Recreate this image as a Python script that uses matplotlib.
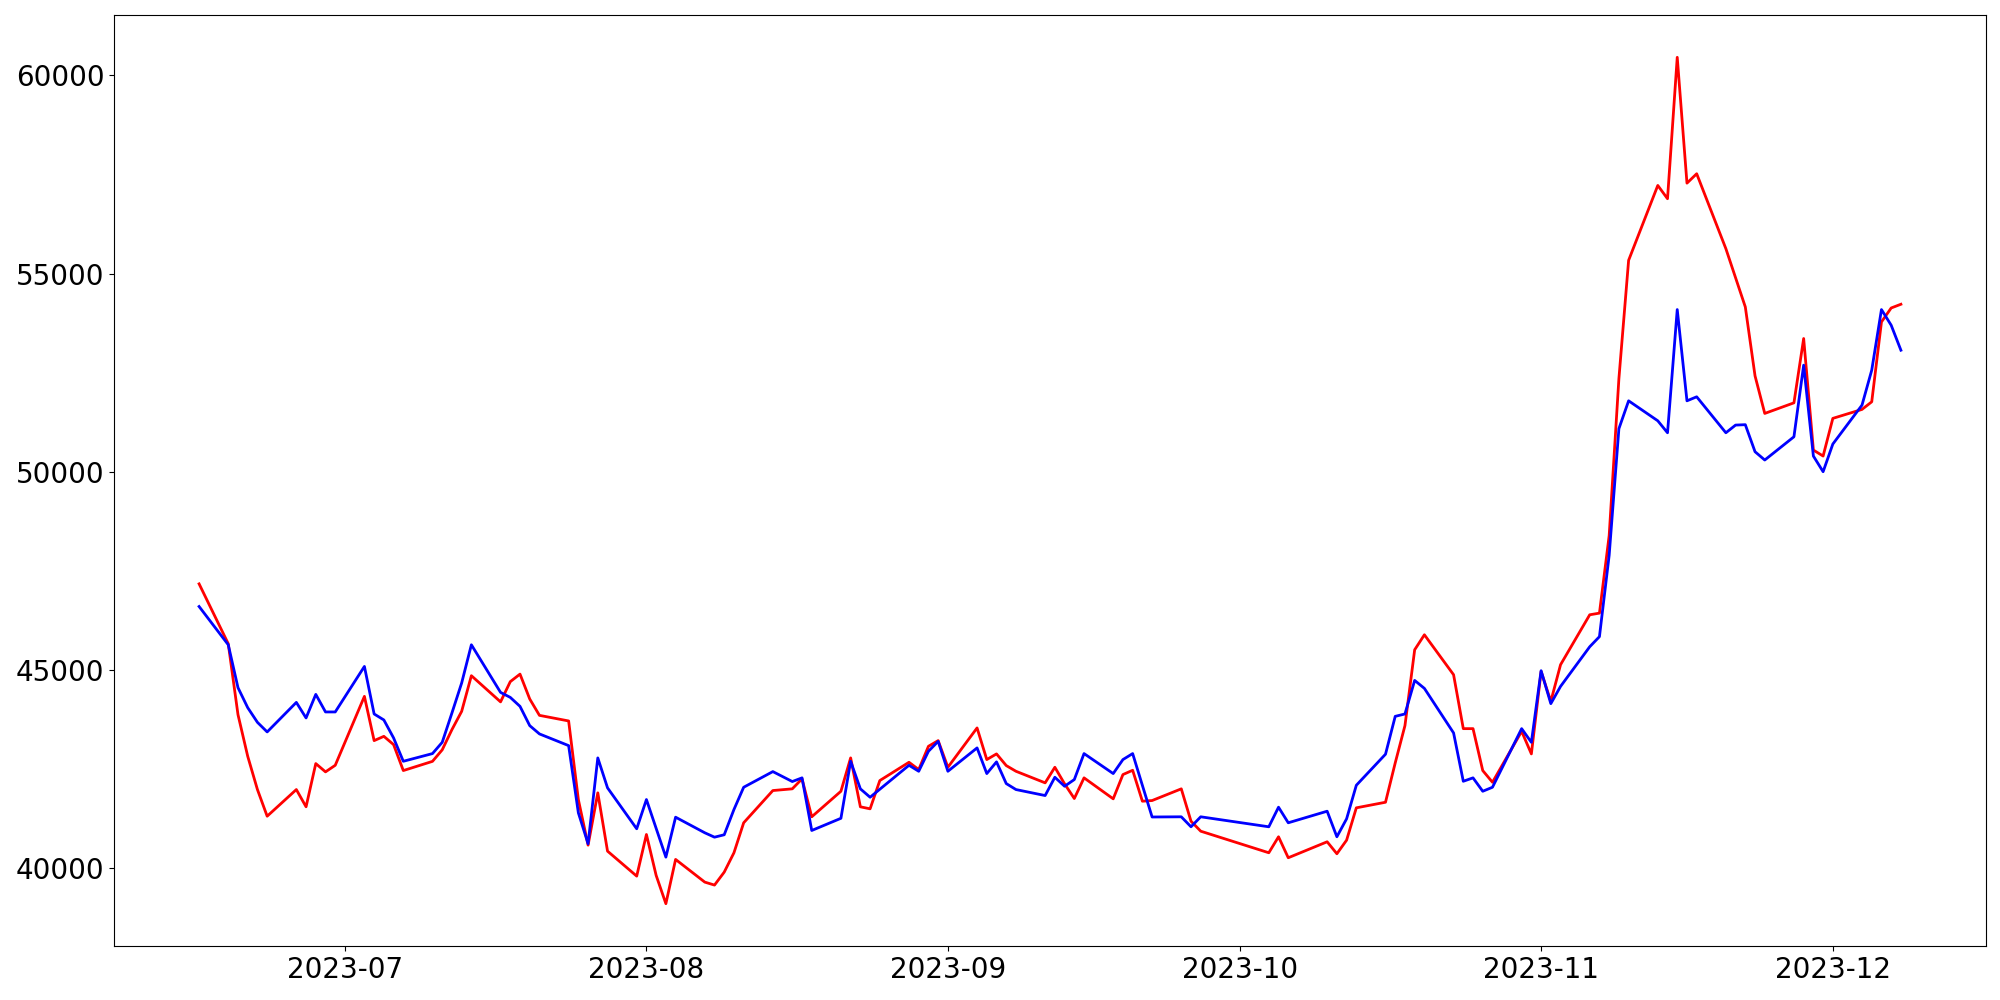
import numpy as np
import pandas as pd
import matplotlib
matplotlib.use('Agg')
import matplotlib.pyplot as plt
import matplotlib.dates as mdates

# dias de mercado (sin fines de semana ni festivos)
festivos = ['2023-08-15', '2023-09-28', '2023-09-29', '2023-10-02', '2023-10-03', '2023-10-09']
fechas = pd.bdate_range('2023-06-16', '2023-12-08')
fechas = fechas[~fechas.isin(pd.to_datetime(festivos))]

rojo = [
    # junio
    47176, 45666, 43878, 42828, 41989, 41317, 41989, 41554, 42644, 42435, 42601,
    # julio
    44339, 43223, 43331, 43122, 42468, 42700, 42990, 43500, 43961, 44860,
    44200, 44710, 44900, 44273, 43860, 43719, 41737, 40587, 41906, 40436, 39806,
    # agosto
    40856, 39824, 39111, 40227, 39655, 39580, 39907, 40395, 41151, 41964, 42007,
    42259, 41302, 41946, 42787, 41554, 41503, 42216, 42677, 42493, 43080, 43223,
    # septiembre
    42551, 43543, 42745, 42888, 42594, 42450, 42158, 42551, 42133, 41763, 42284,
    41755, 42367, 42475, 41695, 41712, 42007, 41191, 40939,
    # octubre
    40395, 40798, 40269, 40672, 40370, 40713, 41528, 41669, 42661, 43601, 45514,
    45892, 44885, 43525, 43525, 42468, 42173, 43457, 42888,
    # noviembre
    44968, 44213, 45137, 46396, 46438, 48393, 52348, 55335, 57223, 56888, 60454,
    57281, 57518, 55629, 54894, 54159, 52421, 51474, 51741, 53363, 50550, 50399,
    # diciembre
    51349, 51575, 51767, 53781, 54133, 54227,
]

azul = [
    # junio
    46605, 45640, 44558, 44054, 43684, 43442, 44187, 43795, 44389, 43946, 43946,
    # julio
    45094, 43895, 43744, 43291, 42702, 42896, 43180, 43920, 44676, 45640,
    44439, 44313, 44087, 43601, 43392, 43097, 41403, 40622, 42787, 42032, 41000,
    # agosto
    41737, 41010, 40285, 41292, 40899, 40788, 40849, 41486, 42047, 42442, 42191,
    42284, 40957, 41264, 42702, 42007, 41795, 41997, 42601, 42450, 42954, 43205,
    # septiembre
    42450, 43039, 42392, 42687, 42140, 41989, 41838, 42299, 42072, 42241, 42896,
    42392, 42745, 42896, 42094, 41297, 41302, 41050, 41302,
    # octubre
    41050, 41544, 41151, 41443, 40798, 41251, 42097, 42880, 43835, 43895, 44741,
    44540, 43417, 42198, 42284, 41946, 42047, 43525, 43180,
    # noviembre
    44986, 44155, 44590, 45590, 45845, 47897, 51089, 51792, 51288, 50986, 54093,
    51792, 51893, 50986, 51180, 51190, 50508, 50299, 50885, 52691, 50399, 50004,
    # diciembre
    50702, 51684, 52565, 54093, 53698, 53068,
]

fig = plt.figure(figsize=(20, 10), dpi=100)
ax = fig.add_subplot(111)
ax.plot(fechas, rojo, color='red', linewidth=2)
ax.plot(fechas, azul, color='blue', linewidth=2)

ax.xaxis.set_major_locator(mdates.MonthLocator())
ax.xaxis.set_major_formatter(mdates.DateFormatter('%Y-%m'))
ax.tick_params(axis='both', labelsize=20)

plt.subplots_adjust(left=0.057, right=0.993, top=0.985, bottom=0.054)
plt.savefig('out.png', dpi=100)
